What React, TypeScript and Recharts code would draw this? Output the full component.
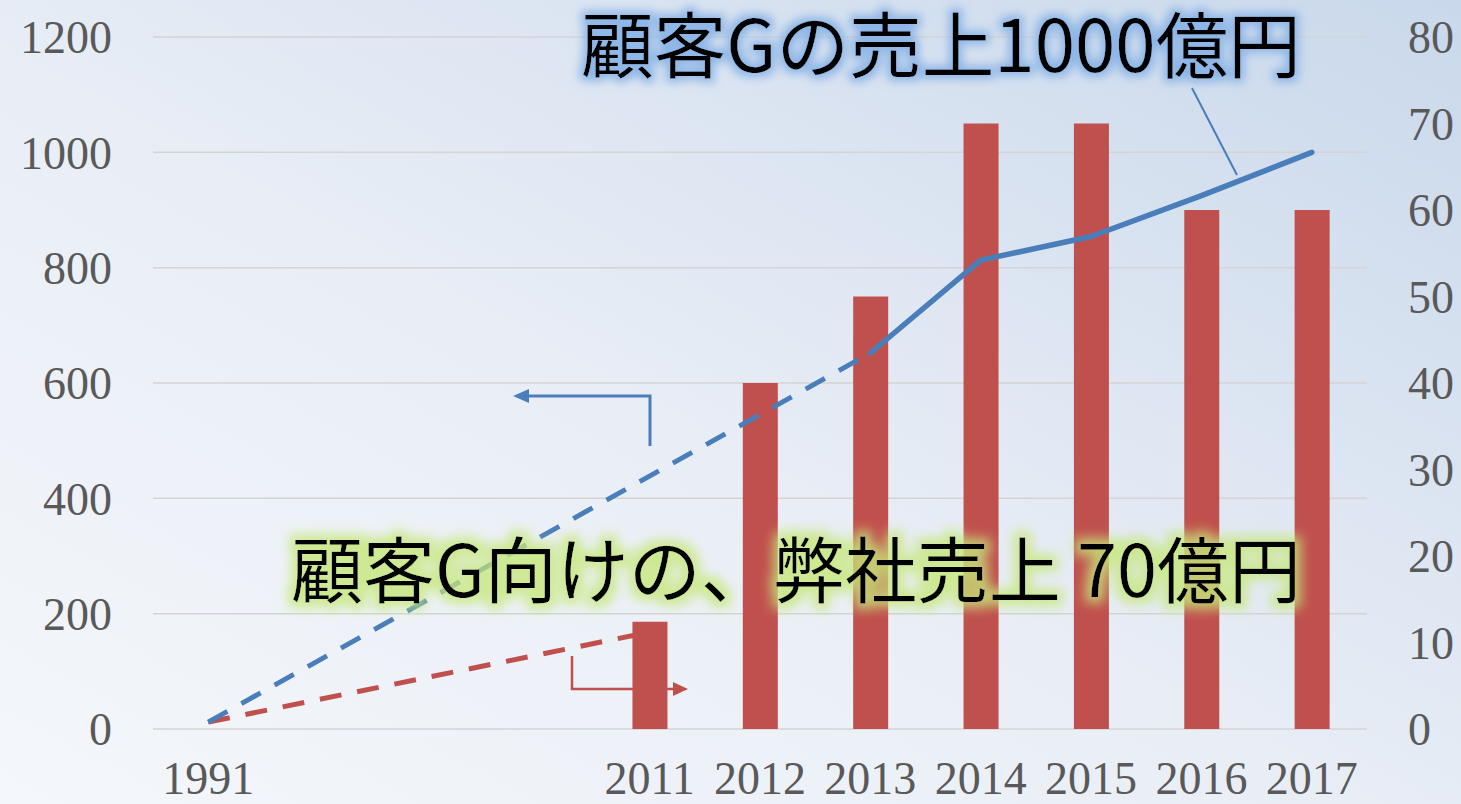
import {
  Bar,
  CartesianGrid,
  ComposedChart,
  Line,
  XAxis,
  YAxis,
} from "recharts";

// categories (gaps between 1991 and 2011 have no label)
const categories = ["1991", "gap1", "gap2", "gap3", "2011", "2012", "2013", "2014", "2015", "2016", "2017"];
const xTickLabels = ["1991", "", "", "", "2011", "2012", "2013", "2014", "2015", "2016", "2017"];

// 顧客Gの売上 (left axis, 億円)
const customerSales = [null, null, null, null, null, null, 652, 813, 854, 925, 1000];
const customerTrend = [12, null, null, null, null, null, 652, null, null, null, null];

// 顧客G向けの弊社売上 (right axis, 億円)
const ourSales = [null, null, null, null, 12.4, 40, 50, 70, 70, 60, 60];
const ourTrend = [0.8, null, null, null, 11.2, null, null, null, null, null, null];

const leftTicks = [0, 200, 400, 600, 800, 1000, 1200];
const rightTicks = [0, 10, 20, 30, 40, 50, 60, 70, 80];

const data = categories.map((c, i) => ({
  year: c,
  customerSales: customerSales[i],
  customerTrend: customerTrend[i],
  ourSales: ourSales[i],
  ourTrend: ourTrend[i],
}));

const tickStyle = { fontFamily: "'Liberation Serif', serif", fontSize: 46, fill: "#595959" };
const BLUE = "#4A7EBB";
const RED = "#C0504D";

export default function App() {
  return (
    <div
      style={{
        position: "absolute",
        left: 0,
        top: 0,
        width: 1461,
        height: 804,
        overflow: "hidden",
        background: "linear-gradient(to top right, #F4F7FB 0%, #E9EEF6 45%, #C9D8EB 100%)",
      }}
    >
      <ComposedChart
        width={1461}
        height={804}
        data={data}
        margin={{ top: 37, right: 0, bottom: 0, left: 0 }}
      >
        <CartesianGrid yAxisId="left" vertical={false} stroke="#D6D3D3" strokeWidth={1.5} />
        <XAxis
          dataKey="year"
          height={75}
          interval={0}
          tickLine={false}
          axisLine={false}
          tickSize={0}
          tickMargin={32}
          tick={tickStyle}
          tickFormatter={(_v, i) => xTickLabels[i]}
        />
        <YAxis
          yAxisId="left"
          width={153}
          domain={[0, 1200]}
          ticks={leftTicks}
          axisLine={false}
          tickLine={false}
          tickSize={0}
          tickMargin={41}
          tick={tickStyle}
        />
        <YAxis
          yAxisId="right"
          orientation="right"
          width={94}
          domain={[0, 80]}
          ticks={rightTicks}
          axisLine={false}
          tickLine={false}
          tickSize={0}
          tickMargin={41}
          tick={tickStyle}
        />
        <Line
          yAxisId="right"
          dataKey="ourTrend"
          stroke={RED}
          strokeWidth={5}
          strokeDasharray="22 16"
          connectNulls
          dot={false}
          isAnimationActive={false}
          zIndex={250}
        />
        <Bar yAxisId="right" dataKey="ourSales" fill={RED} barSize={35} isAnimationActive={false} />
        <Line
          yAxisId="left"
          dataKey="customerTrend"
          stroke={BLUE}
          strokeWidth={5}
          strokeDasharray="22 16"
          connectNulls
          dot={false}
          isAnimationActive={false}
        />
        <Line
          yAxisId="left"
          dataKey="customerSales"
          stroke={BLUE}
          strokeWidth={5.5}
          strokeLinecap="round"
          strokeLinejoin="round"
          dot={false}
          isAnimationActive={false}
        />
      </ComposedChart>

      {/* annotations */}
      <svg
        width={1461}
        height={804}
        style={{ position: "absolute", left: 0, top: 0, pointerEvents: "none" }}
      >
        <defs>
          <filter id="glowBlue" x="-5%" y="-40%" width="110%" height="180%">
            <feMorphology in="SourceAlpha" operator="dilate" radius="4" result="d" />
            <feGaussianBlur in="d" stdDeviation="5" result="b" />
            <feFlood floodColor="#8AB4E6" floodOpacity="0.95" />
            <feComposite in2="b" operator="in" result="g" />
            <feMerge>
              <feMergeNode in="g" />
              <feMergeNode in="SourceGraphic" />
            </feMerge>
          </filter>
          <filter id="glowGreen" x="-5%" y="-40%" width="110%" height="180%">
            <feMorphology in="SourceAlpha" operator="dilate" radius="6" result="d" />
            <feGaussianBlur in="d" stdDeviation="6" result="b" />
            <feFlood floodColor="#C6E77A" floodOpacity="0.8" />
            <feComposite in2="b" operator="in" result="g" />
            <feMerge>
              <feMergeNode in="g" />
              <feMergeNode in="SourceGraphic" />
            </feMerge>
          </filter>
        </defs>

        {/* blue arrow (left axis) */}
        <path d="M650,446 V396 H528" fill="none" stroke={BLUE} strokeWidth={3} />
        <polygon points="513,396 529,389 529,403" fill={BLUE} />

        {/* red arrow (right axis) */}
        <path d="M572,656 V689 H673" fill="none" stroke={RED} strokeWidth={2.5} />
        <polygon points="688,689 673,682 673,696" fill={RED} />

        {/* pointer from label to line */}
        <line x1={1192} y1={88} x2={1237} y2={175} stroke={BLUE} strokeWidth={2} />

        <text
          x={581}
          y={72}
          textLength={720}
          lengthAdjust="spacingAndGlyphs"
          fontFamily="'Noto Sans CJK JP', sans-serif"
          fontSize={72}
          fill="#000"
          filter="url(#glowBlue)"
        >
          顧客Gの売上1000億円
        </text>
        <text
          x={291}
          y={597}
          textLength={1010}
          lengthAdjust="spacingAndGlyphs"
          fontFamily="'Noto Sans CJK JP', sans-serif"
          fontSize={72}
          fill="#000"
          filter="url(#glowGreen)"
        >
          顧客G向けの、弊社売上 70億円
        </text>
      </svg>
    </div>
  );
}
